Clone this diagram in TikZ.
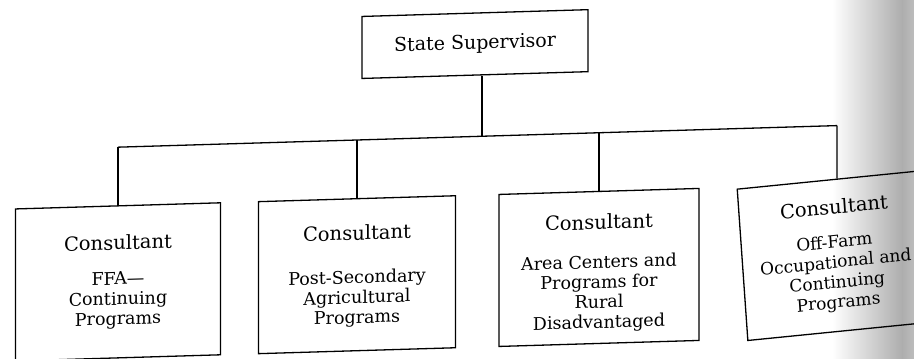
\documentclass[tikz,border=0pt]{standalone}
\usepackage{fontspec}
\setmainfont{DejaVu Serif}
\begin{document}
\begin{tikzpicture}[x=1pt,y=1pt,
  ln/.style={line width=1.3pt},
  orgbox/.style={draw, line width=1.3pt, minimum height=152pt, inner sep=0pt, transform shape},
  topbox/.style={draw, line width=1.3pt, minimum width=226pt, minimum height=62pt, inner sep=0pt, transform shape, font=\fontsize{19}{22}\selectfont},
  cons/.style={font=\fontsize{19.5}{22}\selectfont, inner sep=0pt, transform shape},
  body/.style={font=\fontsize{17.5}{20}\selectfont, align=center, inner sep=0pt, transform shape}]
\clip (0,0) rectangle (914,-359);
% page-gutter shadow of the scan
\shade[left color=white, right color=black!32] (832,0) rectangle (902,-359);
\shade[left color=black!32, right color=black!26] (902,0) rectangle (914,-359);
\begin{scope}[shift={(457,-180)}, yslant=0.03]
  \node[topbox] (sup) at (18,135.4) {State Supervisor};
  \coordinate (jm) at (25,43);
  \coordinate (j1) at (-339,43);
  \coordinate (j2) at (-100,43);
  \coordinate (j3) at (142,43);
  \coordinate (j4) at (380,43);
  % box 1
  \begin{scope}[shift={(-339,-91.7)}]
    \node[orgbox, minimum width=205pt] (b1) at (0,0) {};
    \node[cons] (c1) at (0,39.5) {Consultant};
    \node[body] (t1) at (0,-18.5) {FFA—\\Continuing\\Programs};
  \end{scope}
  % box 2
  \begin{scope}[shift={(-100,-91.7)}]
    \node[orgbox, minimum width=197pt] (b2) at (0,0) {};
    \node[cons] (c2) at (0,42) {Consultant};
    \node[body] (t2) at (0,-24) {Post-Secondary\\Agricultural\\Programs};
  \end{scope}
  % box 3
  \begin{scope}[shift={(142,-91.7)}]
    \node[orgbox, minimum width=200pt] (b3) at (0,0) {};
    \node[cons] (c3) at (0,45.5) {Consultant};
    \node[body] (t3) at (0,-26) {Area Centers and\\Programs for\\Rural\\Disadvantaged};
  \end{scope}
  % box 4
  \begin{scope}[shift={(385.3,-86.4)}, rotate=4]
    \node[orgbox, minimum width=200pt] (b4) at (0,0) {};
    \node[cons] (c4) at (-5,49) {Consultant};
    \node[body, font=\fontsize{17}{20}\selectfont] (t4) at (-7,-18) {Off-Farm\\Occupational and\\Continuing\\Programs};
  \end{scope}
  \draw[ln] ([xshift=7pt]sup.south) -- (jm);
  \draw[ln] (j1) -- (j4);
  \draw[ln] (j1) -- (b1.north);
  \draw[ln] (j2) -- (b2.north);
  \draw[ln] (j3) -- (b3.north);
  \draw[ln] (j4) -- (b4.north);
\end{scope}
\end{tikzpicture}
\end{document}
